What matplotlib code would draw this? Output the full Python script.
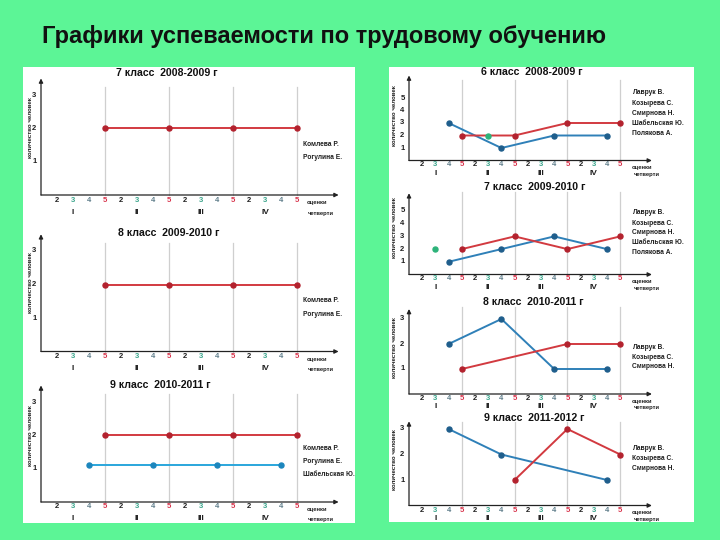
import matplotlib
matplotlib.use('Agg')
import matplotlib.pyplot as plt
from matplotlib.patches import Rectangle

W, H = 720, 540
BG = '#5cf596'
FONT = ['Liberation Sans', 'DejaVu Sans']

grades = ['2', '3', '4', '5'] * 4
quarters = ['I', 'II', 'III', 'IV']
grade_colors = {'2': '#1e1e1e', '3': '#3aa58c', '4': '#5f7d8a', '5': '#d8324a'}

# positions 1..16 on the grade axis (2,3,4,5 of quarter I, then II, ...)
# left column: 7, 8, 9 class
l1_red_x = [4, 8, 12, 16]
l1_red_y = [2, 2, 2, 2]
l2_red_x = [4, 8, 12, 16]
l2_red_y = [2, 2, 2, 2]
l3_red_x = [4, 8, 12, 16]
l3_red_y = [2, 2, 2, 2]
l3_blue_x = [3, 7, 11, 15]
l3_blue_y = [1.1, 1.1, 1.1, 1.1]
left_names_2 = ['Комлева Р.', 'Рогулина Е.']
left_names_3 = ['Комлева Р.', 'Рогулина Е.', 'Шабельская Ю.']

# right column: 6, 7, 8, 9 class
r1_red_x = [4, 8, 12, 16]
r1_red_y = [2, 2, 3, 3]
r1_blue_x = [3, 7, 11, 15]
r1_blue_y = [3, 1, 2, 2]
r1_green_x = [6]
r1_green_y = [2]
r2_red_x = [4, 8, 12, 16]
r2_red_y = [2, 3, 2, 3]
r2_blue_x = [3, 7, 11, 15]
r2_blue_y = [1, 2, 3, 2]
r2_green_x = [2]
r2_green_y = [2]
r3_red_x = [4, 12, 16]
r3_red_y = [1, 2, 2]
r3_blue_x = [3, 7, 11, 15]
r3_blue_y = [2, 3, 1, 1]
r4_red_x = [8, 12, 16]
r4_red_y = [1, 3, 2]
r4_blue_x = [3, 7, 15]
r4_blue_y = [3, 2, 1]
right_names_5 = ['Лаврук В.', 'Козырева С.', 'Смирнова Н.', 'Шабельская Ю.', 'Полякова А.']
right_names_3 = ['Лаврук В.', 'Козырева С.', 'Смирнова Н.']

RED, RED_M = '#d23a40', '#b3222e'
BLUE, BLUE_M = '#2f80b8', '#1f5e8c'
LBLUE, LBLUE_M = '#2aa6dc', '#1c86bd'
GREEN = '#2db37a'

fig = plt.figure(figsize=(7.2, 5.4), dpi=100)
fig.patch.set_facecolor(BG)

left_panel = (23, 67, 355, 523)
right_panel = (389, 67, 694, 522)
for x0, y0, x1, y1 in (left_panel, right_panel):
    fig.patches.append(Rectangle((x0 / W, 1 - y1 / H), (x1 - x0) / W, (y1 - y0) / H,
                                 transform=fig.transFigure, facecolor='white',
                                 edgecolor='none', zorder=-5))

fig.text(42 / W, 1 - 36 / H, 'Графики успеваемости по трудовому обучению',
         family=FONT, fontsize=17, fontweight='bold', color='#111111',
         ha='left', va='center')


def chart(panel, ox, oy, ux, uy, xarrow, yarrow, vtop, yticks, title, title_px,
          names, names_px, ylab_y, series, small):
    x0, y0, x1, y1 = panel
    ax = fig.add_axes([x0 / W, 1 - y1 / H, (x1 - x0) / W, (y1 - y0) / H])
    ax.set_facecolor('none')
    ax.set_xlim((x0 - ox) / ux, (x1 - ox) / ux)
    ax.set_ylim((oy - y1) / uy, (oy - y0) / uy)
    ax.axis('off')

    def px(x, y):
        return (x - ox) / ux, (oy - y) / uy

    # quarter borders
    for p in [4, 8, 12, 16]:
        ax.plot([p, p], [0, vtop], color='#cfcfcf', lw=0.9, zorder=1)
    # axes with arrows
    ax.annotate('', xy=(xarrow, 0), xytext=(0, 0),
                arrowprops=dict(arrowstyle='-|>', color='#222222', lw=0.9,
                                mutation_scale=6, shrinkA=0, shrinkB=0))
    ax.annotate('', xy=(0, yarrow), xytext=(0, 0),
                arrowprops=dict(arrowstyle='-|>', color='#222222', lw=0.9,
                                mutation_scale=6, shrinkA=0, shrinkB=0))
    dig_off, q_off = (4.5, 13) if small else (5, 17)
    for i, g in enumerate(grades):
        ax.text(i + 1, -dig_off / uy, g, color=grade_colors[g], fontsize=5.5,
                fontweight='bold', family=FONT, ha='center', va='center')
    for i, q in enumerate(quarters):
        ax.text(4 * i + 2, -q_off / uy, q, color='#1e1e1e', fontsize=6,
                fontweight='bold', family=FONT, ha='center', va='center')
    lx = 16.9 if small else 16.6
    ax.text(lx, -(dig_off + 2.5) / uy, 'оценки', fontsize=4.2, fontweight='bold',
            family=FONT, ha='left', va='center', color='#1e1e1e')
    ax.text(lx + 0.1, -(q_off + 1) / uy, 'четверти', fontsize=4.2, fontweight='bold',
            family=FONT, ha='left', va='center', color='#1e1e1e')
    for t in yticks:
        ax.text(-4.5 / ux, t, str(t), fontsize=5.5, fontweight='bold',
                family=FONT, ha='right', va='center', color='#1e1e1e')
    ax.text(*px(ox - (15 if small else 11), ylab_y), 'количество человек', rotation=90,
            fontsize=4.4, fontweight='bold', family=FONT, ha='center', va='center',
            color='#1e1e1e')
    ax.text(*px(*title_px), title, fontsize=7.6, fontweight='bold', family=FONT,
            ha='center', va='center', color='#111111')
    nx, ny = names_px
    for k, n in enumerate(names):
        ax.text(*px(nx, ny[k]), n, fontsize=4.8, fontweight='bold', family=FONT,
                ha='left', va='center', color='#1e1e1e')
    for xs, ys, lc, mc in series:
        if len(xs) > 1:
            ax.plot(xs, ys, color=lc, lw=1.4, zorder=3, solid_capstyle='butt')
        ax.plot(xs, ys, 'o', color=mc, markersize=3.6, zorder=4, linestyle='none')
    return ax


# left column
chart(left_panel, 41, 195, 16, 33.3, 18.6, 3.5, 3.25, [1, 2, 3],
      '7 класс  2008-2009 г', (167, 73), left_names_2, (303, [144, 157.5]), 128,
      [(l1_red_x, l1_red_y, RED, RED_M)], False)
chart(left_panel, 41, 351.5, 16, 33.5, 18.6, 3.5, 3.25, [1, 2, 3],
      '8 класс  2009-2010 г', (169, 233), left_names_2, (303, [301, 314.5]), 283,
      [(l2_red_x, l2_red_y, RED, RED_M)], False)
chart(left_panel, 41, 502, 16, 33.3, 18.6, 3.5, 3.25, [1, 2, 3],
      '9 класс  2010-2011 г', (160, 385), left_names_3, (303, [449, 461.5, 474]), 436,
      [(l3_blue_x, l3_blue_y, LBLUE, LBLUE_M), (l3_red_x, l3_red_y, RED, RED_M)], False)

# right column
chart(right_panel, 409, 160.5, 13.2, 12.5, 18.4, 6.8, 6.45, [1, 2, 3, 4, 5],
      '6 класс  2008-2009 г', (532, 72), right_names_5,
      (632, [92.7, 103.3, 113.3, 123.3, 133.3]), 116,
      [(r1_blue_x, r1_blue_y, BLUE, BLUE_M), (r1_red_x, r1_red_y, RED, RED_M),
       (r1_green_x, r1_green_y, GREEN, GREEN)], True)
chart(right_panel, 409, 274.5, 13.2, 12.7, 18.4, 6.4, 6.5, [1, 2, 3, 4, 5],
      '7 класс  2009-2010 г', (535, 187), right_names_5,
      (632, [212.3, 223.3, 232.7, 242.3, 252.3]), 228,
      [(r2_blue_x, r2_blue_y, BLUE, BLUE_M), (r2_red_x, r2_red_y, RED, RED_M),
       (r2_green_x, r2_green_y, GREEN, GREEN)], True)
chart(right_panel, 409, 394, 13.2, 25, 18.4, 3.4, 3.5, [1, 2, 3],
      '8 класс  2010-2011 г', (533, 302), right_names_3,
      (632, [347.3, 357.3, 366.7]), 348,
      [(r3_blue_x, r3_blue_y, BLUE, BLUE_M), (r3_red_x, r3_red_y, RED, RED_M)], True)
chart(right_panel, 409, 505.5, 13.2, 25.5, 18.4, 3.3, 3.28, [1, 2, 3],
      '9 класс  2011-2012 г', (534, 418), right_names_3,
      (632, [449, 459, 469]), 460,
      [(r4_blue_x, r4_blue_y, BLUE, BLUE_M), (r4_red_x, r4_red_y, RED, RED_M)], True)

fig.savefig('out.png', dpi=100, facecolor=BG)
